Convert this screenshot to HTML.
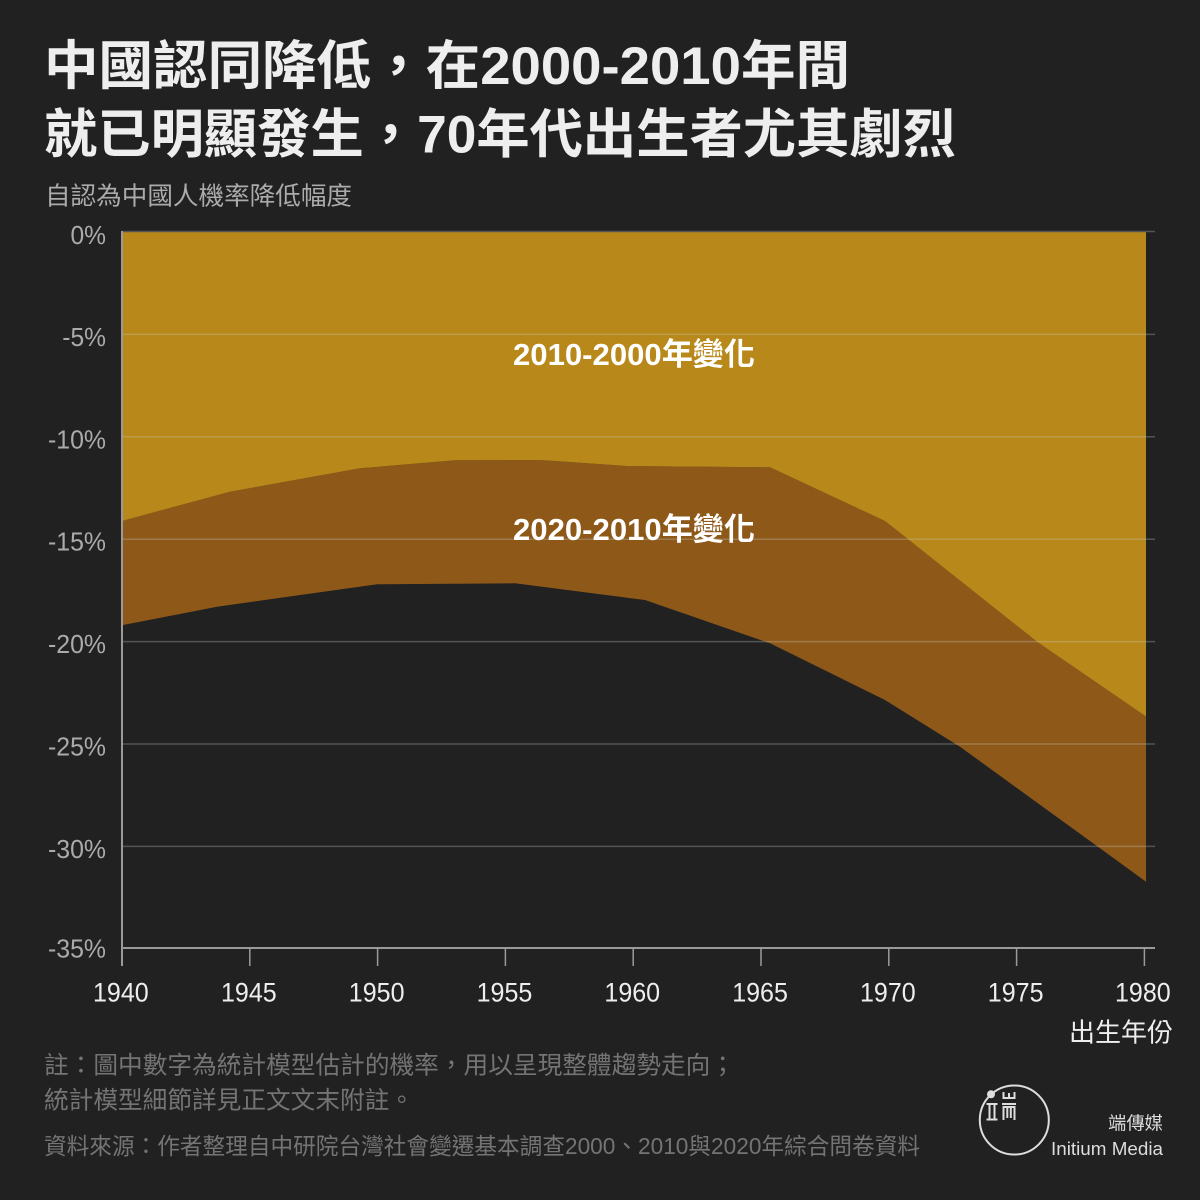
<!DOCTYPE html>
<html>
<head>
<meta charset="utf-8">
<style>
  html, body { margin:0; padding:0; background:#212121; }
  svg { display:block; }
  .cjk { font-family: "Liberation Sans", "Noto Sans CJK TC", sans-serif; }
</style>
</head>
<body>
<svg width="1200" height="1200" viewBox="0 0 1200 1200" xmlns="http://www.w3.org/2000/svg">
  <rect x="0" y="0" width="1200" height="1200" fill="#212121"/>

  <!-- Title -->
  <text class="cjk" x="44" y="84" font-size="53" font-weight="bold" fill="#eeeeee" textLength="806" lengthAdjust="spacingAndGlyphs">中國認同降低，在2000-2010年間</text>
  <text class="cjk" x="44" y="152.5" font-size="53" font-weight="bold" fill="#eeeeee" textLength="912" lengthAdjust="spacingAndGlyphs">就已明顯發生，70年代出生者尤其劇烈</text>

  <!-- Subtitle -->
  <text class="cjk" x="45" y="204.5" font-size="25" fill="#ababab" textLength="307" lengthAdjust="spacingAndGlyphs">自認為中國人機率降低幅度</text>

  <!-- Areas -->
  <polygon fill="#8e5918" points="123,520.7 230,491.7 360,468.3 455,460.3 540,460 627,466 770,467.3 885,521 1037,641.7 1146,716.5 1146,881.7 1100,848.3 960,746.7 885,700 770,643.3 645,600 515,583.3 377,584.3 217,606.7 123,625"/>
  <polygon fill="#b8891a" points="123,232 1146,232 1146,716.5 1037,641.7 885,521 770,467.3 627,466 540,460 455,460.3 360,468.3 230,491.7 123,520.7"/>

  <!-- Gridlines -->
  <line x1="122" y1="231.5" x2="1155" y2="231.5" stroke="#555555" stroke-width="1.5"/>
  <g stroke="rgba(200,200,200,0.3)" stroke-width="1.5">
    <line x1="122" y1="334.4" x2="1155" y2="334.4"/>
    <line x1="122" y1="436.8" x2="1155" y2="436.8"/>
    <line x1="122" y1="539.2" x2="1155" y2="539.2"/>
    <line x1="122" y1="641.6" x2="1155" y2="641.6"/>
    <line x1="122" y1="744" x2="1155" y2="744"/>
    <line x1="122" y1="846.4" x2="1155" y2="846.4"/>
  </g>

  <!-- Axes -->
  <line x1="122" y1="231" x2="122" y2="966" stroke="#9a9a9a" stroke-width="2"/>
  <line x1="121" y1="948" x2="1155" y2="948" stroke="#9a9a9a" stroke-width="2"/>
  <g stroke="#9a9a9a" stroke-width="1.5">
    <line x1="249.8" y1="948" x2="249.8" y2="966"/>
    <line x1="377.6" y1="948" x2="377.6" y2="966"/>
    <line x1="505.4" y1="948" x2="505.4" y2="966"/>
    <line x1="633.2" y1="948" x2="633.2" y2="966"/>
    <line x1="761" y1="948" x2="761" y2="966"/>
    <line x1="888.8" y1="948" x2="888.8" y2="966"/>
    <line x1="1016.6" y1="948" x2="1016.6" y2="966"/>
    <line x1="1144.4" y1="948" x2="1144.4" y2="966"/>
  </g>

  <!-- Y labels -->
  <g font-family="Liberation Sans, sans-serif" font-size="26" fill="#ababab">
    <text x="70.5" y="244" textLength="35.5" lengthAdjust="spacingAndGlyphs">0%</text>
    <text x="62.3" y="346" textLength="43.7" lengthAdjust="spacingAndGlyphs">-5%</text>
    <text x="48" y="448.3" textLength="58" lengthAdjust="spacingAndGlyphs">-10%</text>
    <text x="48" y="550.7" textLength="58" lengthAdjust="spacingAndGlyphs">-15%</text>
    <text x="48" y="653.1" textLength="58" lengthAdjust="spacingAndGlyphs">-20%</text>
    <text x="48" y="755.5" textLength="58" lengthAdjust="spacingAndGlyphs">-25%</text>
    <text x="48" y="857.9" textLength="58" lengthAdjust="spacingAndGlyphs">-30%</text>
    <text x="48" y="957.3" textLength="58" lengthAdjust="spacingAndGlyphs">-35%</text>
  </g>

  <!-- X labels -->
  <g font-family="Liberation Sans, sans-serif" font-size="27" fill="#eeeeee">
    <text x="93" y="1001.5" textLength="55.7" lengthAdjust="spacingAndGlyphs">1940</text>
    <text x="221" y="1001.5" textLength="55.7" lengthAdjust="spacingAndGlyphs">1945</text>
    <text x="348.8" y="1001.5" textLength="55.7" lengthAdjust="spacingAndGlyphs">1950</text>
    <text x="476.6" y="1001.5" textLength="55.7" lengthAdjust="spacingAndGlyphs">1955</text>
    <text x="604.4" y="1001.5" textLength="55.7" lengthAdjust="spacingAndGlyphs">1960</text>
    <text x="732.2" y="1001.5" textLength="55.7" lengthAdjust="spacingAndGlyphs">1965</text>
    <text x="860" y="1001.5" textLength="55.7" lengthAdjust="spacingAndGlyphs">1970</text>
    <text x="987.8" y="1001.5" textLength="55.7" lengthAdjust="spacingAndGlyphs">1975</text>
    <text x="1115" y="1001.5" textLength="55.7" lengthAdjust="spacingAndGlyphs">1980</text>
  </g>
  <text class="cjk" x="1069" y="1041.5" font-size="26" fill="#eeeeee" textLength="104" lengthAdjust="spacingAndGlyphs">出生年份</text>

  <!-- Area labels -->
  <text class="cjk" x="513" y="365" font-size="31" font-weight="bold" fill="#ffffff" textLength="242" lengthAdjust="spacingAndGlyphs">2010-2000年變化</text>
  <text class="cjk" x="513" y="540" font-size="31" font-weight="bold" fill="#ffffff" textLength="242" lengthAdjust="spacingAndGlyphs">2020-2010年變化</text>

  <!-- Notes -->
  <text class="cjk" x="44" y="1073.3" font-size="24.5" fill="#747474" textLength="691" lengthAdjust="spacingAndGlyphs">註：圖中數字為統計模型估計的機率，用以呈現整體趨勢走向；</text>
  <text class="cjk" x="44" y="1108.5" font-size="24.5" fill="#747474" textLength="370" lengthAdjust="spacingAndGlyphs">統計模型細節詳見正文文末附註。</text>
  <text class="cjk" x="44" y="1154" font-size="23" fill="#747474" textLength="876" lengthAdjust="spacingAndGlyphs">資料來源：作者整理自中研院台灣社會變遷基本調查2000、2010與2020年綜合問卷資料</text>

  <!-- Logo -->
  <circle cx="1014.3" cy="1120" r="34.5" fill="none" stroke="#dddddd" stroke-width="2"/>
  <circle cx="991" cy="1094.3" r="4" fill="#dddddd"/>
  <g stroke="#dddddd" stroke-width="2" fill="none">
    <line x1="986.5" y1="1104" x2="997.5" y2="1104"/>
    <line x1="989.5" y1="1104" x2="989.5" y2="1119"/>
    <line x1="994.5" y1="1104" x2="994.5" y2="1119"/>
    <line x1="986.5" y1="1119.5" x2="997.5" y2="1119.5"/>
    <polyline points="1003.5,1092 1003.5,1098 1014.5,1098 1014.5,1092"/>
    <line x1="1009" y1="1093" x2="1009" y2="1098"/>
    <line x1="1002" y1="1104" x2="1016" y2="1104"/>
    <polyline points="1003.5,1120 1003.5,1107 1014.5,1107 1014.5,1120"/>
    <line x1="1007.3" y1="1107" x2="1007.3" y2="1118"/>
    <line x1="1010.8" y1="1107" x2="1010.8" y2="1118"/>
  </g>
  <text class="cjk" x="1108" y="1129.5" font-size="18" fill="#dddddd" textLength="55" lengthAdjust="spacingAndGlyphs">端傳媒</text>
  <text x="1051" y="1155" font-family="Liberation Sans, sans-serif" font-size="18.5" fill="#dddddd" textLength="112" lengthAdjust="spacingAndGlyphs">Initium Media</text>
</svg>
</body>
</html>
